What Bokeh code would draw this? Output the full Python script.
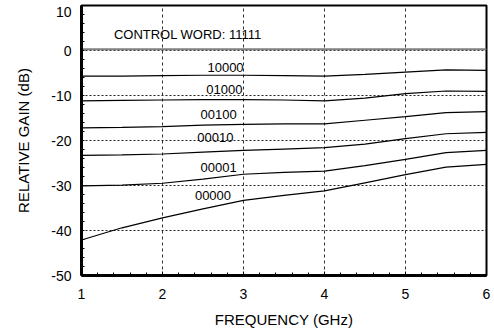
from bokeh.plotting import figure
from bokeh.models import Range1d, FixedTicker, ColumnDataSource
from bokeh.core.properties import value
from bokeh.embed import file_html
from bokeh.resources import INLINE

# ---- data ----
freq = [1.0, 1.5, 2.0, 2.5, 3.0, 3.5, 4.0, 4.5, 5.0, 5.5, 6.0]
gain_11111 = [0.3, 0.3, 0.3, 0.3, 0.3, 0.3, 0.3, 0.3, 0.3, 0.3, 0.3]
gain_10000 = [-5.7, -5.7, -5.6, -5.5, -5.5, -5.6, -5.7, -5.3, -4.8, -4.3, -4.4]
gain_01000 = [-11.2, -11.1, -11.0, -10.9, -10.9, -11.0, -11.2, -10.6, -9.6, -9.0, -9.1]
gain_00100 = [-17.2, -17.1, -16.9, -16.6, -16.4, -16.3, -16.3, -15.5, -14.7, -13.8, -13.6]
gain_00010 = [-23.3, -23.2, -23.0, -22.6, -22.2, -21.9, -21.6, -20.8, -19.6, -18.5, -18.2]
gain_00001 = [-30.1, -29.9, -29.5, -28.6, -27.5, -27.1, -26.8, -25.6, -24.2, -22.7, -22.2]
gain_00000 = [-42.1, -39.4, -37.2, -35.2, -33.3, -32.2, -31.2, -29.4, -27.6, -25.9, -25.3]

x_ticks = [1, 2, 3, 4, 5, 6]
y_ticks = [10, 0, -10, -20, -30, -40, -50]
y_tick_labels = ["10", "0", "-10", "-20", "-30", "-40", "-50"]
y_grid_values = [0, -10, -20, -30, -40]

curve_words = ["10000", "01000", "00100", "00010", "00001", "00000"]
word_label_x = [2.555, 2.54, 2.47, 2.43, 2.47, 2.40]
word_label_y = [-3.7, -8.7, -14.2, -19.4, -26.1, -32.3]
title_text = ["CONTROL WORD: 11111"]
title_x = [1.40]
title_y = [3.6]

FONT = "Liberation Sans"
Y_MAX = 10
PX_PER_UNIT = 4.5  # 270 px frame / 60 dB

p = figure(width=494, height=332, output_backend="svg", toolbar_location=None,
           x_range=Range1d(1, 6), y_range=Range1d(-50, Y_MAX),
           min_border_left=81, min_border_right=8, min_border_top=5, min_border_bottom=57)
p.background_fill_color = "white"
p.border_fill_color = "white"
p.outline_line_color = "black"
p.outline_line_width = 2
p.outline_line_alpha = 1

# ticks: the top label ("10") sits just inside the frame in the reference,
# so its label is placed 6 px below the frame's top edge
label_pos = [t - 6 / PX_PER_UNIT if t == Y_MAX else t for t in y_ticks]
x_minor = [1 + i * 0.2 for i in range(26)]
y_minor = [-50 + i * 2 for i in range(31)]
p.xaxis.ticker = FixedTicker(ticks=x_ticks, minor_ticks=x_minor)
p.yaxis.ticker = FixedTicker(ticks=label_pos, minor_ticks=y_minor)
p.yaxis.major_label_overrides = {pos: s for pos, s in zip(label_pos, y_tick_labels)}
p.xgrid.ticker = FixedTicker(ticks=x_ticks)
p.ygrid.ticker = FixedTicker(ticks=y_grid_values)

for ax in (p.xaxis, p.yaxis):
    ax.axis_line_width = 3
    ax.axis_line_color = "black"
    ax.major_tick_out = 0
    ax.minor_tick_in = 3
    ax.minor_tick_out = 0
    ax.major_tick_line_color = "black"
    ax.minor_tick_line_color = "black"
    ax.major_label_text_font = FONT
    ax.major_label_text_font_size = "14px"
    ax.major_label_text_color = "black"
    ax.axis_label_text_font = FONT
    ax.axis_label_text_font_size = "15px"
    ax.axis_label_text_font_style = "normal"
    ax.axis_label_text_color = "black"
p.xaxis.major_tick_in = 4
p.yaxis.major_tick_in = 0

p.xaxis.axis_label = "FREQUENCY (GHz)"
p.yaxis.axis_label = "RELATIVE GAIN (dB)"
p.xaxis.major_label_standoff = 13
p.yaxis.major_label_standoff = 10
p.xaxis.axis_label_standoff = 9
p.yaxis.axis_label_standoff = 16

# grids
p.xgrid.grid_line_color = "#333333"
p.xgrid.grid_line_dash = "3 3"
p.xgrid.grid_line_width = 1
p.ygrid.grid_line_color = "#222222"
p.ygrid.grid_line_dash = "2 2"
p.ygrid.grid_line_width = 1

# curves
p.line(freq, gain_11111, line_color="#808080", line_width=2)
for g in (gain_10000, gain_01000, gain_00100, gain_00010, gain_00001, gain_00000):
    p.line(freq, g, line_color="black", line_width=1.2)

src = ColumnDataSource(dict(x=word_label_x, y=word_label_y, t=curve_words))
p.text(x="x", y="y", text="t", source=src, text_font=value(FONT),
       text_font_size="13px", text_align="left", text_baseline="middle", text_color="black")
src2 = ColumnDataSource(dict(x=title_x, y=title_y, t=title_text))
p.text(x="x", y="y", text="t", source=src2, text_font=value(FONT),
       text_font_size="13px", text_align="left", text_baseline="middle", text_color="black")

open("out.html", "w").write(file_html(p, INLINE))
